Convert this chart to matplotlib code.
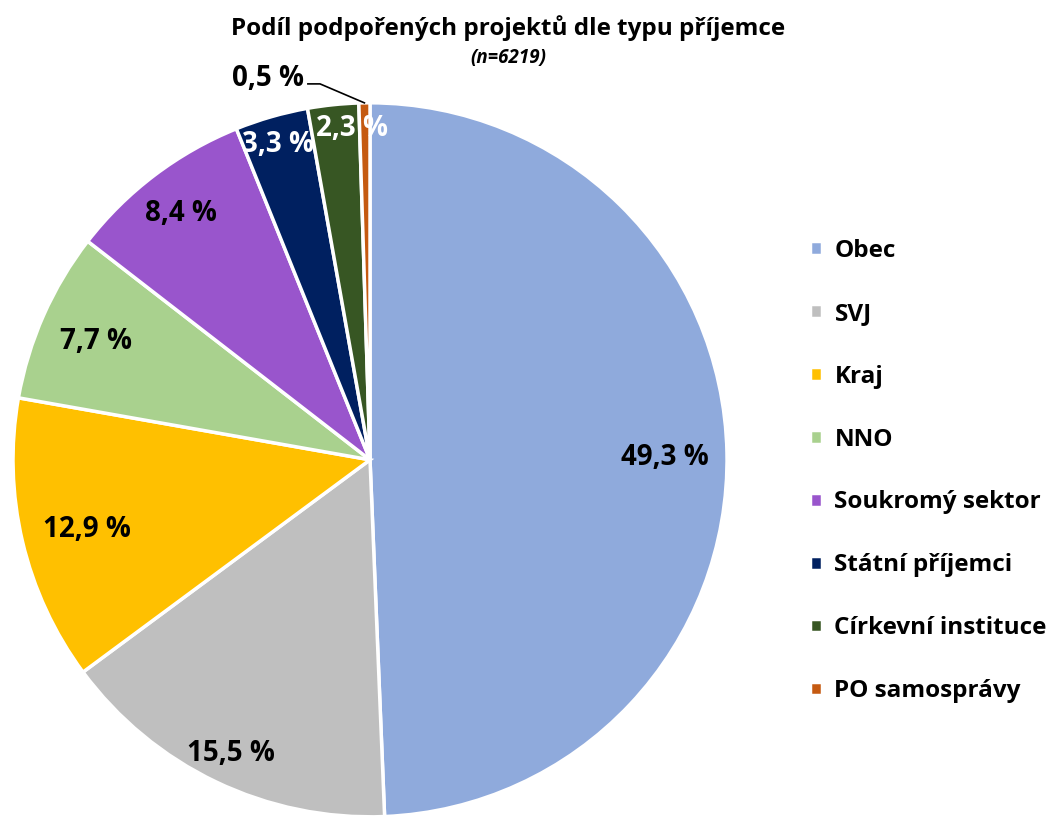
import numpy as np
import matplotlib.pyplot as plt

plt.rcParams['font.family'] = ['Open Sans', 'DejaVu Sans']

# ---------------- data ----------------
categories = ["Obec", "SVJ", "Kraj", "NNO", "Soukromý sektor",
              "Státní příjemci", "Církevní instituce", "PO samosprávy"]
shares = [49.3, 15.5, 12.9, 7.7, 8.4, 3.3, 2.3, 0.5]
colors = ["#8FAADC", "#BFBFBF", "#FFC000", "#A9D18E", "#9955CC",
          "#002060", "#375623", "#C55A11"]
label_colors = ["black", "black", "black", "black", "black",
                "white", "white", "black"]
# label placement: radius (fraction of pie radius) and angular nudge (deg)
label_r = [0.825, 0.90, 0.815, 0.84, 0.878, 0.93, 0.94, None]
label_nudge = [0, 0, 0, 0, 0, 0, -2.9, 0]

fig = plt.figure(figsize=(10.5, 8.16), dpi=100)
ax = fig.add_axes([0.0124, -0.001, 0.68, 0.875])

wedges, _ = ax.pie(shares, colors=colors, startangle=90, counterclock=False,
                   radius=1.0,
                   wedgeprops=dict(edgecolor="white", linewidth=2.5))
ax.set_xlim(-1, 1)
ax.set_ylim(-1, 1)
ax.set_aspect("equal")

def fmt(v):
    return ("%.1f %%" % v).replace(".", ",")

for w, v, c, r, nd in zip(wedges, shares, label_colors, label_r, label_nudge):
    ang = np.deg2rad((w.theta1 + w.theta2) / 2 + nd)
    if r is None:
        # small slice: label outside with leader line
        ex, ey = np.cos(ang), np.sin(ang)
        ax.plot([-0.174, -0.140, ex], [1.053, 1.053, ey], color="black",
                lw=1.2, clip_on=False)
        ax.text(-0.286, 1.078, fmt(v), ha="center", va="center_baseline",
                fontsize=20, fontweight="bold", color=c, clip_on=False)
        continue
    ax.text(r * np.cos(ang), r * np.sin(ang), fmt(v), ha="center",
            va="center_baseline", fontsize=20, fontweight="bold", color=c)

fig.text(0.484, 0.965, "Podíl podpořených projektů dle typu příjemce",
         ha="center", va="center", fontsize=17.5, fontweight="bold")
fig.text(0.484, 0.929, "(n=6219)", ha="center", va="center",
         fontsize=13.5, fontweight="bold", style="italic")

leg = fig.legend(wedges, categories, loc="upper left",
                 bbox_to_anchor=(0.751, 0.734), frameon=False,
                 prop=dict(size=17.5, weight="bold"),
                 handlelength=0.49, handleheight=0.49, handletextpad=0.5,
                 labelspacing=1.6)

fig.savefig("out.png", dpi=100)
